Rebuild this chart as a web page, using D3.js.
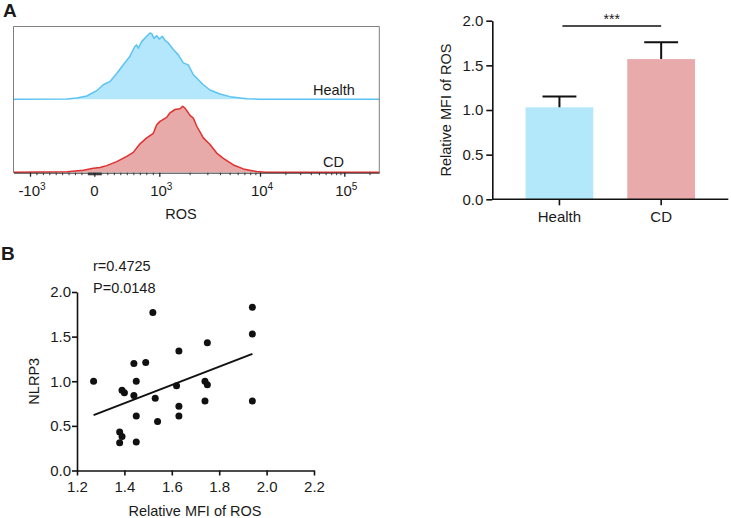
<!DOCTYPE html>
<html><head><meta charset="utf-8">
<script src="https://cdn.jsdelivr.net/npm/d3@7"></script>
<style>
body{margin:0;background:#fff}
svg{display:block}
text{font-family:"Liberation Sans",Arial,sans-serif;fill:#1a1a1a}
</style>
</head><body>
<svg id="c" width="731" height="518"></svg>
<script>
// ---------------- DATA ----------------
// Panel A (left): flow histogram of ROS
const rosRange = [-1260, 262144];
const rosTickMajor = [-1000, 0, 1000, 10000, 100000];
const rosTickLabels = [["-10","3"],["0",""],["10","3"],["10","4"],["10","5"]];
const histLabels = ["Health", "CD"];
const healthHist = [
  [-425,0.5],[-271,2],[-117,5],[37,13],[138,22],[242,27],[345,39],[446,52],[549,65],
  [626,80],[652,82],[677,77],[729,87],[806,95],[857,100],[883,99],[918,92],[960,96],
  [1000,91],[1071,95],[1140,89],[1229,85],[1377,75],[1545,67],[1731,55],[1941,52],
  [2178,37],[2350,32],[2735,22],[3187,14],[4000,8],[5035,4],[7360,1],[10000,0]
];
const cdHist = [
  [-425,0.5],[-169,3],[-15,6],[88,7],[191,10],[345,16],[499,24],[600,30],[703,43],
  [806,52],[908,59],[960,72],[1016,77],[1183,83],[1277,90],[1432,95],[1606,96],
  [1706,100],[1799,97],[1941,90],[2018,86],[2178,82],[2350,70],[2735,52],[3187,42],
  [3715,29],[4325,21],[5445,11],[6839,5],[9267,1],[11650,0]
];
// Panel A (right): bar chart
const barCategories = ["Health", "CD"];
const barMeans = [1.03, 1.57];
const barSD = [0.12, 0.19];
const barTicks = [0, 0.5, 1.0, 1.5, 2.0];
const sigLabel = "***";
const sigLevel = 1.94;
// Panel B: scatter
const scatterX = [1.27,1.52,1.94,1.94,1.75,1.63,1.44,1.49,1.45,1.39,1.40,1.44,1.53,
                  1.62,1.74,1.75,1.74,1.94,1.63,1.63,1.45,1.54,1.38,1.39,1.38,1.45];
const scatterY = [1.00,1.77,1.83,1.53,1.43,1.34,1.20,1.21,1.00,0.90,0.87,0.84,0.81,
                  0.95,1.00,0.96,0.78,0.78,0.72,0.61,0.61,0.55,0.43,0.38,0.31,0.32];
const scatterXTicks = [1.2,1.4,1.6,1.8,2.0,2.2];
const scatterYTicks = [0,0.5,1.0,1.5,2.0];
const scatterStats = ["r=0.4725", "P=0.0148"];

// ---------------- STYLE ----------------
const blueLine = "#5cc3f2", blueFill = "#b4e7fb";
const redLine = "#e0302f", redFill = "#e8a9a9";
const barBlue = "#b3e8fa", barRed = "#e8aaaa";
const tickFont = 15, titleFont = 14.5;

const svg = d3.select("#c");

// panel letters
svg.append("text").attr("x",3).attr("y",17).attr("font-size",19).attr("font-weight","bold").text("A");
svg.append("text").attr("x",1).attr("y",260).attr("font-size",19).attr("font-weight","bold").text("B");

// ---------------- HISTOGRAM ----------------
(function(){
  const T = v => Math.abs(v) <= 1000 ? v/1000 : Math.sign(v)*(1+Math.log10(Math.abs(v)/1000));
  const xT = d3.scaleLinear()
    .domain([T(rosRange[0]), -1, 0, 1, 2, 3, T(rosRange[1])])
    .range([13.5, 30, 94.3, 159.3, 260, 344.3, 379.3]);
  const xH = v => xT(T(v));
  const top = 26.5, mid = 99.3, bot = 172.7;
  const yHealth = d3.scaleLinear().domain([0,100]).range([mid, mid-66.3]);
  const yCD = d3.scaleLinear().domain([0,100]).range([bot-0.5, bot-66.5]);
  const full = h => [[rosRange[0],0], ...h, [rosRange[1],0]];
  const g = svg.append("g");
  [[healthHist,yHealth,blueFill,blueLine],[cdHist,yCD,redFill,redLine]].forEach(([h,y,f,s])=>{
    const d = full(h);
    g.append("path").datum(d).attr("fill",f)
      .attr("d", d3.area().x(p=>xH(p[0])).y0(y(0)).y1(p=>y(p[1])));
    g.append("path").datum(d).attr("fill","none").attr("stroke",s).attr("stroke-width",1.5)
      .attr("stroke-linejoin","round")
      .attr("d", d3.line().x(p=>xH(p[0])).y(p=>y(p[1])));
  });
  // frame (left, top, right)
  g.append("path").attr("fill","none").attr("stroke","#7f7f7f").attr("stroke-width",1)
    .attr("d",`M13.5,${bot}V${top}H379.3V${bot}`);
  // axis
  const xa = d3.scaleLinear().domain(xT.domain()).range(xT.range());
  const minor = [].concat(
    d3.range(-900,0,100), d3.range(-90,100,10).filter(v=>v!==0), d3.range(100,1000,100),
    d3.range(2000,10000,1000), d3.range(20000,100000,10000), [200000]);
  const ax = g.append("g").attr("transform",`translate(0,${bot})`);
  ax.call(d3.axisBottom(xa).tickValues(minor.map(T)).tickSize(2.5).tickFormat("").tickSizeOuter(0));
  ax.call(g2=>g2.select(".domain").remove());
  const ax2 = g.append("g").attr("transform",`translate(0,${bot})`);
  ax2.call(d3.axisBottom(xa).tickValues(rosTickMajor.map(T)).tickSize(4).tickFormat("").tickSizeOuter(0));
  ax2.select(".domain").attr("stroke","#333");
  ax.selectAll(".tick line").attr("stroke","#333");
  ax2.selectAll(".tick line").attr("stroke","#222").attr("stroke-width",1.3);
  rosTickMajor.forEach((v,i)=>{
    const t = g.append("text").attr("x",xH(v)+(rosTickLabels[i][1]?2:0)).attr("y",bot+23.5).attr("font-size",tickFont).attr("text-anchor","middle");
    t.append("tspan").text(rosTickLabels[i][0]);
    if (rosTickLabels[i][1]) t.append("tspan").attr("font-size",10).attr("dy",-6.5).text(rosTickLabels[i][1]);
  });
  g.append("text").attr("x",181).attr("y",218.5).attr("font-size",titleFont).attr("text-anchor","middle").text("ROS");
  g.append("text").attr("x",313).attr("y",94.5).attr("font-size",titleFont).text(histLabels[0]);
  g.append("text").attr("x",323).attr("y",167).attr("font-size",titleFont).text(histLabels[1]);
})();

// ---------------- BAR CHART ----------------
(function(){
  const x0 = 492.3, x1 = 728.3, yb = 199.3, yt = 20.7;
  const x = d3.scaleBand().domain(barCategories).range([x0,x1]).paddingInner(0.334).paddingOuter(0.327);
  const y = d3.scaleLinear().domain([0,2]).range([yb,yt]);
  const g = svg.append("g");
  const cols = [barBlue, barRed];
  g.selectAll("rect.bar").data(barCategories).join("rect")
    .attr("x",d=>x(d)).attr("width",x.bandwidth())
    .attr("y",(d,i)=>y(barMeans[i])).attr("height",(d,i)=>y(0)-y(barMeans[i]))
    .attr("fill",(d,i)=>cols[i]);
  barCategories.forEach((c,i)=>{
    const cx = x(c)+x.bandwidth()/2, cw = x.bandwidth()/4;
    g.append("path").attr("fill","none").attr("stroke","#111").attr("stroke-width",2)
      .attr("d",`M${cx},${y(barMeans[i])}V${y(barMeans[i]+barSD[i])}M${cx-cw},${y(barMeans[i]+barSD[i])}H${cx+cw}`);
  });
  const ya = g.append("g").attr("transform",`translate(${x0},0)`)
    .call(d3.axisLeft(y).tickValues(barTicks).tickFormat(d3.format(".1f")).tickSize(6).tickPadding(3).tickSizeOuter(0));
  const xa = g.append("g").attr("transform",`translate(0,${yb})`)
    .call(d3.axisBottom(x).tickSize(6).tickPadding(6).tickSizeOuter(0));
  [ya,xa].forEach(a=>{
    a.selectAll("path,line").attr("stroke","#111").attr("stroke-width",1.6);
    a.selectAll("text").attr("font-size",tickFont).attr("font-family","Liberation Sans, Arial, sans-serif").attr("fill","#1a1a1a");
  });
  xa.select(".domain").attr("d",`M${x0},0H${x1}`);
  g.append("text").attr("transform",`translate(446,${(yb+yt)/2}) rotate(-90)`)
    .attr("text-anchor","middle").attr("dy","0.35em").attr("font-size",titleFont).text("Relative MFI of ROS");
  const sx0 = x(barCategories[0])+x.bandwidth()/2+3, sx1 = x(barCategories[1])+x.bandwidth()/2;
  g.append("line").attr("x1",sx0).attr("x2",sx1).attr("y1",y(sigLevel)).attr("y2",y(sigLevel))
    .attr("stroke","#111").attr("stroke-width",1.4);
  g.append("text").attr("x",(sx0+sx1)/2).attr("y",y(sigLevel)-2).attr("text-anchor","middle")
    .attr("font-size",14).text(sigLabel);
})();

// ---------------- SCATTER ----------------
(function(){
  const x = d3.scaleLinear().domain([1.2,2.2]).range([77,314]);
  const y = d3.scaleLinear().domain([0,2]).range([470.5,292]);
  const g = svg.append("g");
  const xa = g.append("g").attr("transform",`translate(0,${y(0)})`)
    .call(d3.axisBottom(x).tickValues(scatterXTicks).tickFormat(d3.format(".1f")).tickSize(5).tickPadding(6).tickSizeOuter(0));
  const ya = g.append("g").attr("transform",`translate(${x(1.2)},0)`)
    .call(d3.axisLeft(y).tickValues(scatterYTicks).tickFormat(d3.format(".1f")).tickSize(5).tickPadding(1).tickSizeOuter(0));
  [xa,ya].forEach(a=>{
    a.selectAll("path,line").attr("stroke","#111").attr("stroke-width",1.6);
    a.selectAll("text").attr("font-size",tickFont).attr("font-family","Liberation Sans, Arial, sans-serif").attr("fill","#1a1a1a");
  });
  const pts = scatterX.map((v,i)=>[v,scatterY[i]]);
  // least-squares fit
  const mx = d3.mean(scatterX), my = d3.mean(scatterY);
  const sxy = d3.sum(pts,p=>(p[0]-mx)*(p[1]-my)), sxx = d3.sum(pts,p=>(p[0]-mx)**2);
  const b = sxy/sxx, a0 = my - b*mx;
  const [xmin,xmax] = d3.extent(scatterX);
  g.append("line").attr("x1",x(xmin)).attr("x2",x(xmax)).attr("y1",y(a0+b*xmin)).attr("y2",y(a0+b*xmax))
    .attr("stroke","#111").attr("stroke-width",2);
  g.selectAll("circle").data(pts).join("circle")
    .attr("cx",d=>x(d[0])).attr("cy",d=>y(d[1])).attr("r",3.5).attr("fill","#111");
  g.append("text").attr("x",93).attr("y",271).attr("font-size",titleFont).text(scatterStats[0]);
  g.append("text").attr("x",93).attr("y",293).attr("font-size",titleFont).text(scatterStats[1]);
  g.append("text").attr("transform",`translate(33.5,${y(1)}) rotate(-90)`).attr("text-anchor","middle")
    .attr("dy","0.35em").attr("font-size",titleFont).text("NLRP3");
  g.append("text").attr("x",195).attr("y",516).attr("text-anchor","middle").attr("font-size",titleFont).text("Relative MFI of ROS");
})();
</script>
</body></html>
